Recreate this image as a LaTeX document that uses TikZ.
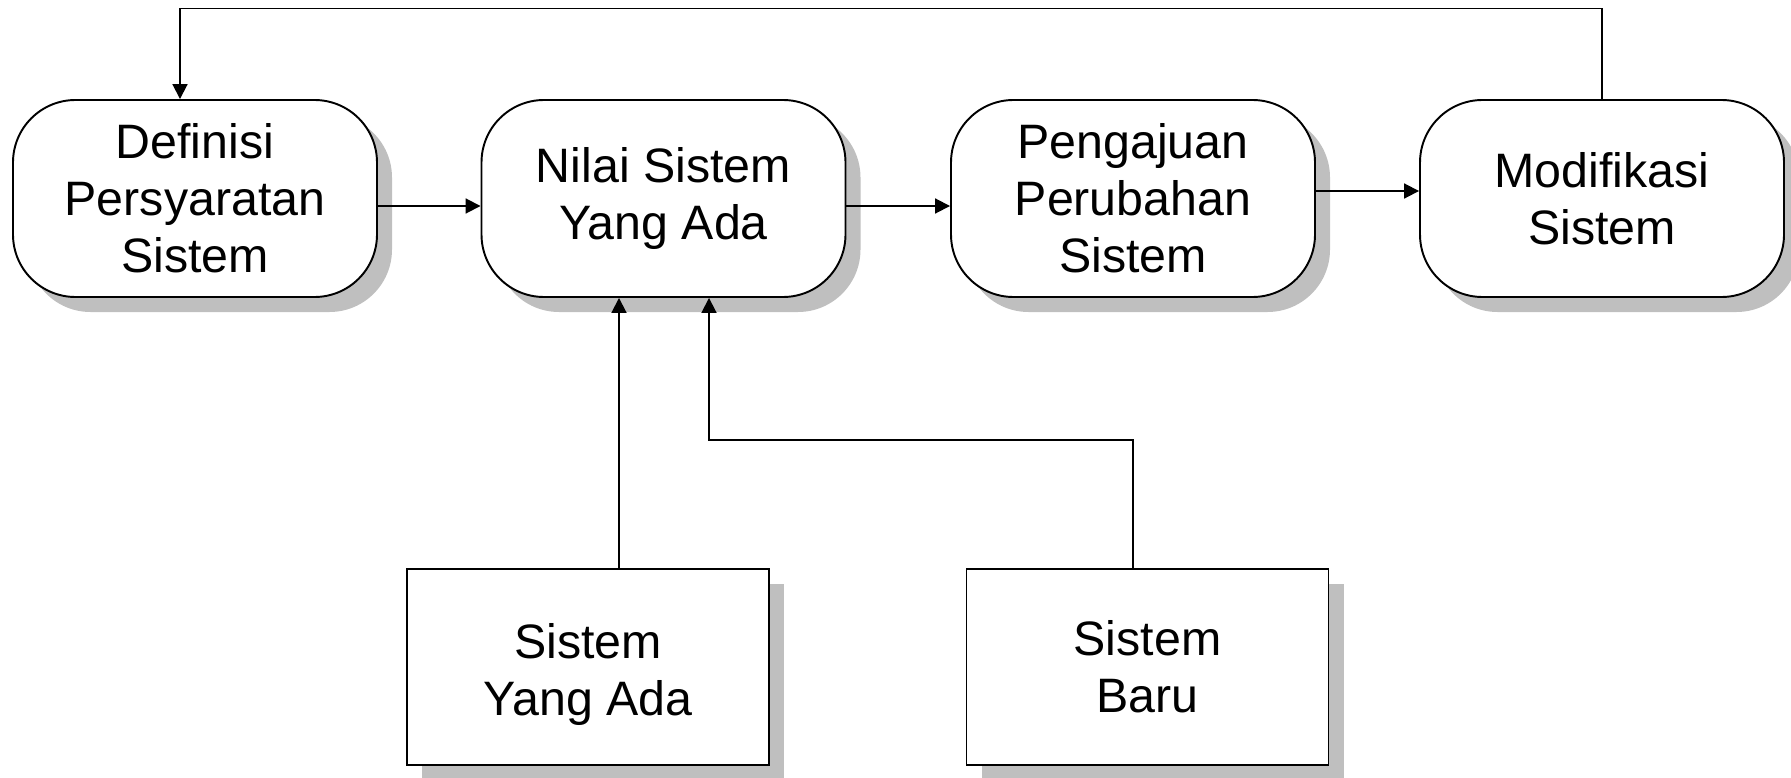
\documentclass[tikz,border=0pt]{standalone}
\usepackage{fontspec}
\setmainfont{Liberation Sans}
\usepackage{tikz}
\usetikzlibrary{arrows.meta}
\usetikzlibrary{shadows}

\begin{document}
\begin{tikzpicture}[
	proses/.style={draw, line width=1.1pt, fill=white, rounded corners=1.25cm,
		minimum width=7.28cm, minimum height=3.94cm, align=center,
		font=\fontsize{27.5}{32.4}\selectfont,
		drop shadow={shadow xshift=0.3cm, shadow yshift=-0.3cm, fill=black!25, opacity=1}},
	sumber/.style={proses, rounded corners=0pt, minimum width=7.24cm, minimum height=3.92cm},
	panah/.style={line width=1.1pt, -{Triangle[length=8.5pt,width=8.5pt]}}]
	\useasboundingbox (0,0) rectangle (35.82,-15.56);
	% baris atas
	\node[proses] (definisi) at (3.9,-3.97) {Definisi\\Persyaratan\\Sistem};
	\node[proses] (nilai) at (13.27,-3.97) {Nilai Sistem\\Yang Ada};
	\node[proses] (pengajuan) at (22.66,-3.97) {Pengajuan\\Perubahan\\Sistem};
	\node[proses] (modifikasi) at (32.04,-3.97) {Modifikasi\\Sistem};
	% baris bawah
	\node[sumber] (lama) at (11.76,-13.34) {\raisebox{-5pt}[\height][\depth]{\begin{tabular}{@{}c@{}}Sistem\\Yang Ada\end{tabular}}};
	\node[sumber] (baru) at (22.95,-13.34) {Sistem\\Baru};
	% alur
	\draw[panah] ([yshift=-0.15cm]definisi.east) -- ([yshift=-0.15cm]nilai.west);
	\draw[panah] ([yshift=-0.15cm]nilai.east) -- ([yshift=-0.15cm]pengajuan.west);
	\draw[panah] ([yshift=0.15cm]pengajuan.east) -- ([yshift=0.15cm]modifikasi.west);
	\draw[panah] (modifikasi.north) -- ++(0,1.81) -| ([xshift=-0.3cm]definisi.north);
	\draw[panah] ([xshift=0.62cm]lama.north) -- ([xshift=0.62cm]lama.north |- nilai.south);
	\draw[panah] ([xshift=-0.29cm]baru.north) -- ++(0,2.56) -| ([xshift=0.91cm]nilai.south);
\end{tikzpicture}
\end{document}
